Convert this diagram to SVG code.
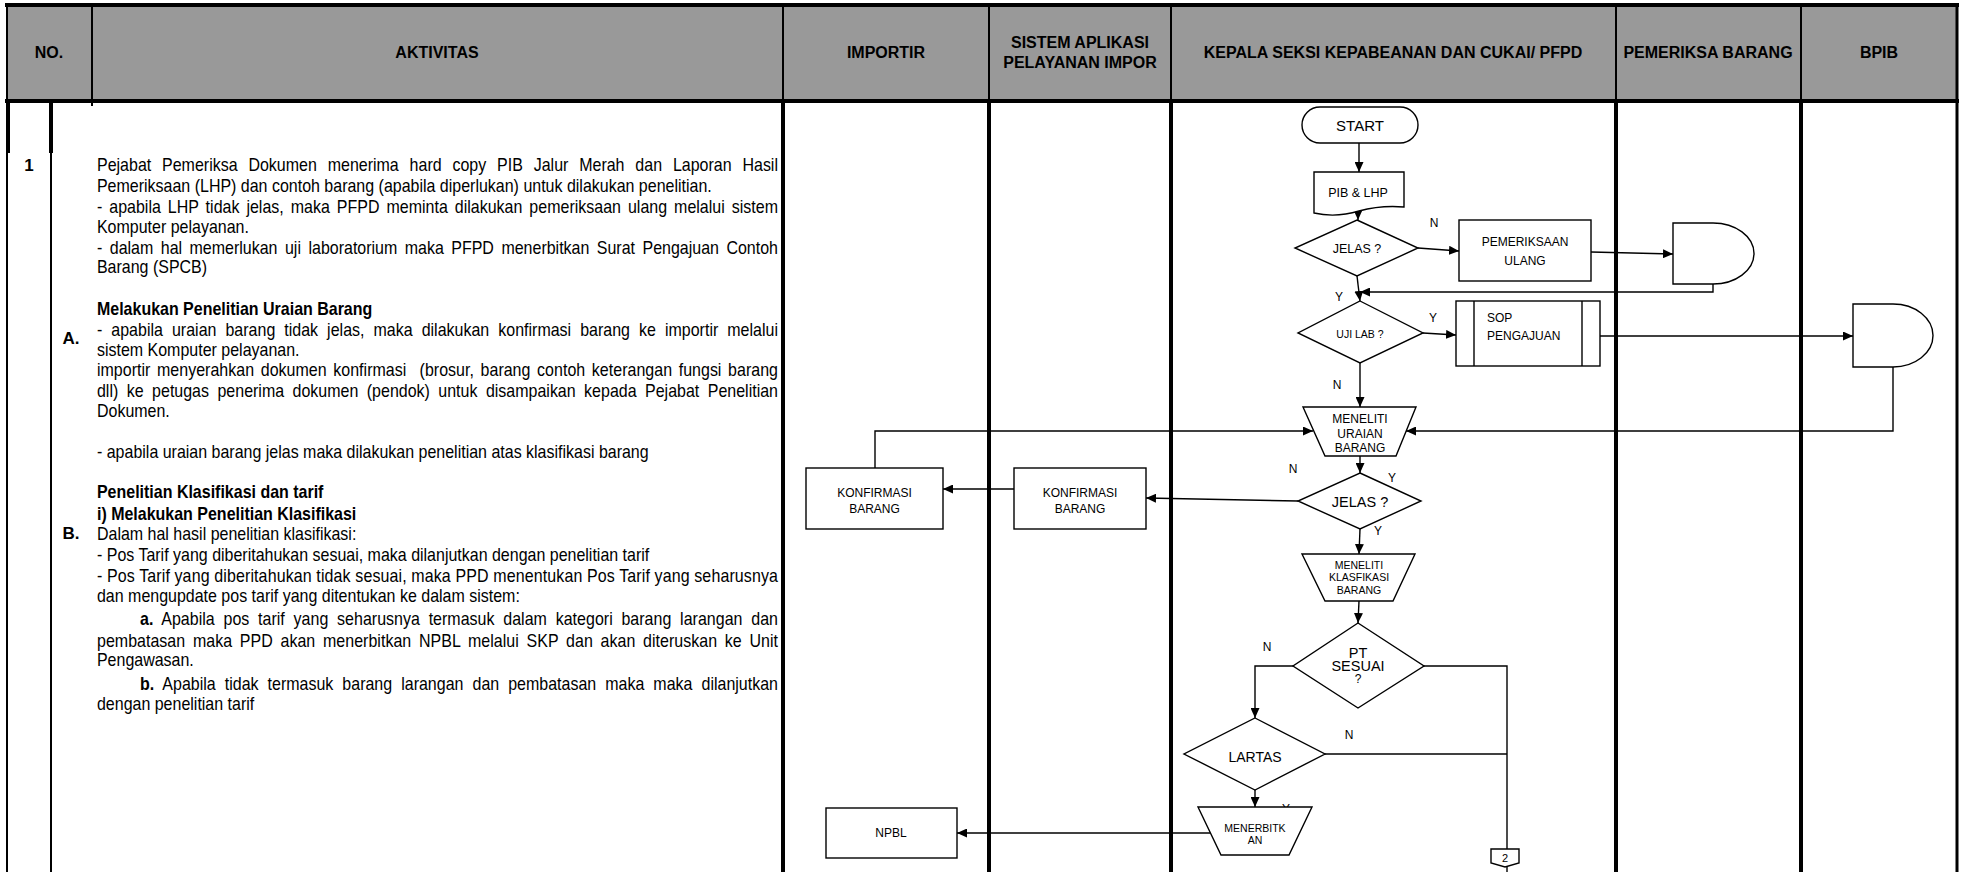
<svg xmlns="http://www.w3.org/2000/svg" width="1961" height="872" viewBox="0 0 1961 872">
<defs>
<marker id="ah" viewBox="0 0 10 9" refX="10" refY="4.5" markerWidth="10" markerHeight="9" markerUnits="userSpaceOnUse" orient="auto"><path d="M0,0 L10,4.5 L0,9 Z" fill="#000"/></marker>
</defs>
<style>
.hd{font-family:"Liberation Sans",Arial,sans-serif;font-weight:bold;font-size:16px;text-anchor:middle;fill:#000}
.bt{font-family:"Liberation Sans",Arial,sans-serif;font-size:17.5px;fill:#000}
.nb{font-family:"Liberation Sans",Arial,sans-serif;font-size:17px;font-weight:bold;text-anchor:middle;fill:#000}
.b{font-weight:bold}
.fc{font-family:"Liberation Sans",Arial,sans-serif;text-anchor:middle;fill:#000}
.shape{fill:#fff;stroke:#000;stroke-width:1.4}
.conn{fill:none;stroke:#000;stroke-width:1.4}
.arr{marker-end:url(#ah)}
.lbl{font-family:"Liberation Sans",Arial,sans-serif;font-size:12px;fill:#000;text-anchor:middle}
.g2{stroke:#000;stroke-width:2}
.g4{stroke:#000;stroke-width:4}
</style>
<rect width="1961" height="872" fill="#fff"/>

<g id="table">
<rect x="7" y="5" width="1950" height="96" fill="#999999"/>
<line class="g4" x1="5" y1="5" x2="1959" y2="5"/>
<line class="g4" x1="5" y1="101" x2="1959" y2="101"/>
<line class="g2" x1="7" y1="5" x2="7" y2="872"/>
<line class="g4" x1="8" y1="101" x2="8" y2="153"/>
<line class="g2" x1="51" y1="101" x2="51" y2="872"/>
<line class="g4" x1="51" y1="101" x2="51" y2="153"/>
<line class="g2" x1="92" y1="5" x2="92" y2="106"/>
<line class="g2" x1="783" y1="5" x2="783" y2="101"/>
<line class="g2" x1="989" y1="5" x2="989" y2="101"/>
<line class="g2" x1="1171" y1="5" x2="1171" y2="101"/>
<line class="g2" x1="1616" y1="5" x2="1616" y2="101"/>
<line class="g2" x1="1801" y1="5" x2="1801" y2="101"/>
<line class="g4" x1="783" y1="101" x2="783" y2="872"/>
<line class="g4" x1="989" y1="101" x2="989" y2="872"/>
<line class="g4" x1="1171" y1="101" x2="1171" y2="872"/>
<line class="g4" x1="1616" y1="101" x2="1616" y2="872"/>
<line class="g4" x1="1801" y1="101" x2="1801" y2="872"/>
<line stroke="#000" stroke-width="3" x1="1957" y1="5" x2="1957" y2="872"/>
<text class="hd" x="49" y="57.5">NO.</text>
<text class="hd" x="437" y="57.5">AKTIVITAS</text>
<text class="hd" x="886" y="57.5">IMPORTIR</text>
<text class="hd" x="1080" y="47.5">SISTEM APLIKASI</text>
<text class="hd" x="1080" y="67.5">PELAYANAN IMPOR</text>
<text class="hd" x="1393" y="57.5">KEPALA SEKSI KEPABEANAN DAN CUKAI/ PFPD</text>
<text class="hd" x="1708" y="57.5">PEMERIKSA BARANG</text>
<text class="hd" x="1879" y="57.5">BPIB</text>
</g>

<g id="nomor">
<text class="nb" x="29" y="171">1</text>
<text class="nb" x="71" y="344">A.</text>
<text class="nb" x="71" y="539">B.</text>
</g>

<g id="aktivitas" transform="scale(0.914 1)">
<text class="bt" x="106.1" y="171.5" textLength="745.1" lengthAdjust="spacing" word-spacing="7">Pejabat Pemeriksa Dokumen menerima hard copy PIB Jalur Merah dan Laporan Hasil</text>
<text class="bt" x="106.1" y="192.5">Pemeriksaan (LHP) dan contoh barang (apabila diperlukan) untuk dilakukan penelitian.</text>
<text class="bt" x="106.1" y="213" textLength="745.1" lengthAdjust="spacing" word-spacing="2.7">- apabila LHP tidak jelas, maka PFPD meminta dilakukan pemeriksaan ulang melalui sistem</text>
<text class="bt" x="106.1" y="233">Komputer pelayanan.</text>
<text class="bt" x="106.1" y="254" textLength="745.1" lengthAdjust="spacing" word-spacing="3.3">- dalam hal memerlukan uji laboratorium maka PFPD menerbitkan Surat Pengajuan Contoh</text>
<text class="bt" x="106.1" y="273.5">Barang (SPCB)</text>
<text class="bt b" x="106.1" y="315">Melakukan Penelitian Uraian Barang</text>
<text class="bt" x="106.1" y="336" textLength="745.1" lengthAdjust="spacing" word-spacing="5">- apabila uraian barang tidak jelas, maka dilakukan konfirmasi barang ke importir melalui</text>
<text class="bt" x="106.1" y="356">sistem Komputer pelayanan.</text>
<text class="bt" x="106.1" y="376.5" textLength="745.1" lengthAdjust="spacing" word-spacing="2.4" xml:space="preserve">importir menyerahkan dokumen konfirmasi  (brosur, barang contoh keterangan fungsi barang</text>
<text class="bt" x="106.1" y="397" textLength="745.1" lengthAdjust="spacing" word-spacing="4.4">dll) ke petugas penerima dokumen (pendok) untuk disampaikan kepada Pejabat Penelitian</text>
<text class="bt" x="106.1" y="417">Dokumen.</text>
<text class="bt" x="106.1" y="458">- apabila uraian barang jelas maka dilakukan penelitian atas klasifikasi barang</text>
<text class="bt b" x="106.1" y="498">Penelitian Klasifikasi dan tarif</text>
<text class="bt b" x="106.1" y="520">i) Melakukan Penelitian Klasifikasi</text>
<text class="bt" x="106.1" y="540.5">Dalam hal hasil penelitian klasifikasi:</text>
<text class="bt" x="106.1" y="561">- Pos Tarif yang diberitahukan sesuai, maka dilanjutkan dengan penelitian tarif</text>
<text class="bt" x="106.1" y="582" textLength="745.1" lengthAdjust="spacing">- Pos Tarif yang diberitahukan tidak sesuai, maka PPD menentukan Pos Tarif yang seharusnya</text>
<text class="bt" x="106.1" y="602.5">dan mengupdate pos tarif yang ditentukan ke dalam sistem:</text>
<text class="bt" x="153.2" y="625" textLength="698" lengthAdjust="spacing" word-spacing="4.7"><tspan class="b">a.</tspan> Apabila pos tarif yang seharusnya termasuk dalam kategori barang larangan dan</text>
<text class="bt" x="106.1" y="647" textLength="745.1" lengthAdjust="spacing" word-spacing="3.6">pembatasan maka PPD akan menerbitkan NPBL melalui SKP dan akan diteruskan ke Unit</text>
<text class="bt" x="106.1" y="666.5">Pengawasan.</text>
<text class="bt" x="153.2" y="690" textLength="698" lengthAdjust="spacing" word-spacing="5"><tspan class="b">b.</tspan> Apabila tidak termasuk barang larangan dan pembatasan maka maka dilanjutkan</text>
<text class="bt" x="106.1" y="710">dengan penelitian tarif</text>
</g>

<g id="connectors">
<path class="conn arr" d="M1359,143 V172"/>
<path class="conn arr" d="M1358,210 V220"/>
<path class="conn arr" d="M1418,248 L1459,251"/>
<path class="conn arr" d="M1591,252 L1673,254"/>
<path class="conn arr" d="M1713,284 V292 H1360"/>
<path class="conn arr" d="M1357,276 L1360,301"/>
<path class="conn arr" d="M1423,333 L1456,335"/>
<path class="conn arr" d="M1600,336 H1853"/>
<path class="conn arr" d="M1893,367 V431 H1406"/>
<path class="conn arr" d="M1360,363 V407"/>
<path class="conn arr" d="M875,468 V431 H1313"/>
<path class="conn arr" d="M1360,456 V473"/>
<path class="conn arr" d="M1298,501 L1146,498"/>
<path class="conn arr" d="M1014,489 H943"/>
<path class="conn arr" d="M1360,529 L1359,554"/>
<path class="conn arr" d="M1359,601 L1358,623"/>
<path class="conn arr" d="M1293,666 H1255 V718"/>
<path class="conn" d="M1424,666 H1507 V849"/>
<path class="conn" d="M1507,867 V872"/>
<path class="conn" d="M1325,754 H1507"/>
<path class="conn arr" d="M1255,790 V807"/>
<path class="conn arr" d="M1210,833 H957"/>
<text class="lbl" x="1434" y="227">N</text>
<text class="lbl" x="1339" y="301">Y</text>
<text class="lbl" x="1433" y="322">Y</text>
<text class="lbl" x="1337" y="389">N</text>
<text class="lbl" x="1293" y="473">N</text>
<text class="lbl" x="1392" y="482">Y</text>
<text class="lbl" x="1378" y="535">Y</text>
<text class="lbl" x="1267" y="651">N</text>
<text class="lbl" x="1349" y="739">N</text>
<text class="lbl" x="1286" y="813">Y</text>
</g>

<g id="start">
<rect class="shape" x="1302" y="107" width="116" height="36" rx="18"/>
<text class="fc" x="1360" y="130.5" font-size="15">START</text>
</g>
<g id="pib-lhp">
<path class="shape" d="M1314,172 H1404 V207 Q1381,205 1359,211 Q1336,218 1314,213 Z"/>
<text class="fc" x="1358" y="197" font-size="12.5">PIB &amp; LHP</text>
</g>
<g id="jelas1">
<polygon class="shape" points="1357,220 1418,248 1357,276 1295,248"/>
<text class="fc" x="1357" y="252.5" font-size="12.5">JELAS ?</text>
</g>
<g id="pemeriksaan-ulang">
<rect class="shape" x="1459" y="220" width="132" height="61"/>
<text class="fc" x="1525" y="246" font-size="12">PEMERIKSAAN</text>
<text class="fc" x="1525" y="265" font-size="12">ULANG</text>
</g>
<g id="delay1">
<path class="shape" d="M1673,223 H1713 A41,30.5 0 0 1 1713,284 H1673 Z"/>
</g>
<g id="uji-lab">
<polygon class="shape" points="1360,301 1423,333 1360,363 1298,333"/>
<text class="fc" x="1360" y="337.5" font-size="10.5">UJI LAB ?</text>
</g>
<g id="sop-pengajuan">
<rect class="shape" x="1456" y="301" width="144" height="65"/>
<line class="conn" x1="1474" y1="301" x2="1474" y2="366"/>
<line class="conn" x1="1582" y1="301" x2="1582" y2="366"/>
<text class="fc" x="1487" y="322" font-size="12" style="text-anchor:start">SOP</text>
<text class="fc" x="1487" y="340" font-size="12" style="text-anchor:start">PENGAJUAN</text>
</g>
<g id="delay2">
<path class="shape" d="M1853,304 H1893 A40,31.5 0 0 1 1893,367 H1853 Z"/>
</g>
<g id="meneliti-uraian">
<polygon class="shape" points="1303,407 1416,407 1396,456 1325,456"/>
<text class="fc" x="1360" y="423" font-size="12">MENELITI</text>
<text class="fc" x="1360" y="438" font-size="12">URAIAN</text>
<text class="fc" x="1360" y="452" font-size="12">BARANG</text>
</g>
<g id="jelas2">
<polygon class="shape" points="1360,473 1421,501 1360,529 1298,501"/>
<text class="fc" x="1360" y="507" font-size="14.5">JELAS ?</text>
</g>
<g id="konfirmasi-sistem">
<rect class="shape" x="1014" y="468" width="132" height="61"/>
<text class="fc" x="1080" y="496.5" font-size="12">KONFIRMASI</text>
<text class="fc" x="1080" y="512.5" font-size="12">BARANG</text>
</g>
<g id="konfirmasi-importir">
<rect class="shape" x="806" y="468" width="137" height="61"/>
<text class="fc" x="874.5" y="496.5" font-size="12">KONFIRMASI</text>
<text class="fc" x="874.5" y="512.5" font-size="12">BARANG</text>
</g>
<g id="meneliti-klasifikasi">
<polygon class="shape" points="1302,554 1415,554 1393,601 1325,601"/>
<text class="fc" x="1359" y="568.5" font-size="10.5">MENELITI</text>
<text class="fc" x="1359" y="581" font-size="10.5">KLASFIKASI</text>
<text class="fc" x="1359" y="594" font-size="10.5">BARANG</text>
</g>
<g id="pt-sesuai">
<polygon class="shape" points="1358,623 1424,666 1358,708 1293,666"/>
<text class="fc" x="1358" y="658" font-size="14.5">PT</text>
<text class="fc" x="1358" y="671" font-size="14.5">SESUAI</text>
<text class="fc" x="1358" y="683" font-size="12">?</text>
</g>
<g id="lartas">
<polygon class="shape" points="1255,718 1325,754 1255,790 1184,754"/>
<text class="fc" x="1255" y="762" font-size="14">LARTAS</text>
</g>
<g id="menerbitkan">
<polygon class="shape" points="1198,807 1312,807 1289,855 1221,855"/>
<text class="fc" x="1255" y="832" font-size="10.5">MENERBITK</text>
<text class="fc" x="1255" y="843.5" font-size="10.5">AN</text>
</g>
<g id="npbl">
<rect class="shape" x="826" y="808" width="131" height="50"/>
<text class="fc" x="891" y="837" font-size="12">NPBL</text>
</g>
<g id="connector-2">
<polygon class="shape" points="1491,849 1519,849 1519,863 1505,867 1491,863"/>
<text class="fc" x="1505" y="861.5" font-size="11">2</text>
</g>
</svg>
